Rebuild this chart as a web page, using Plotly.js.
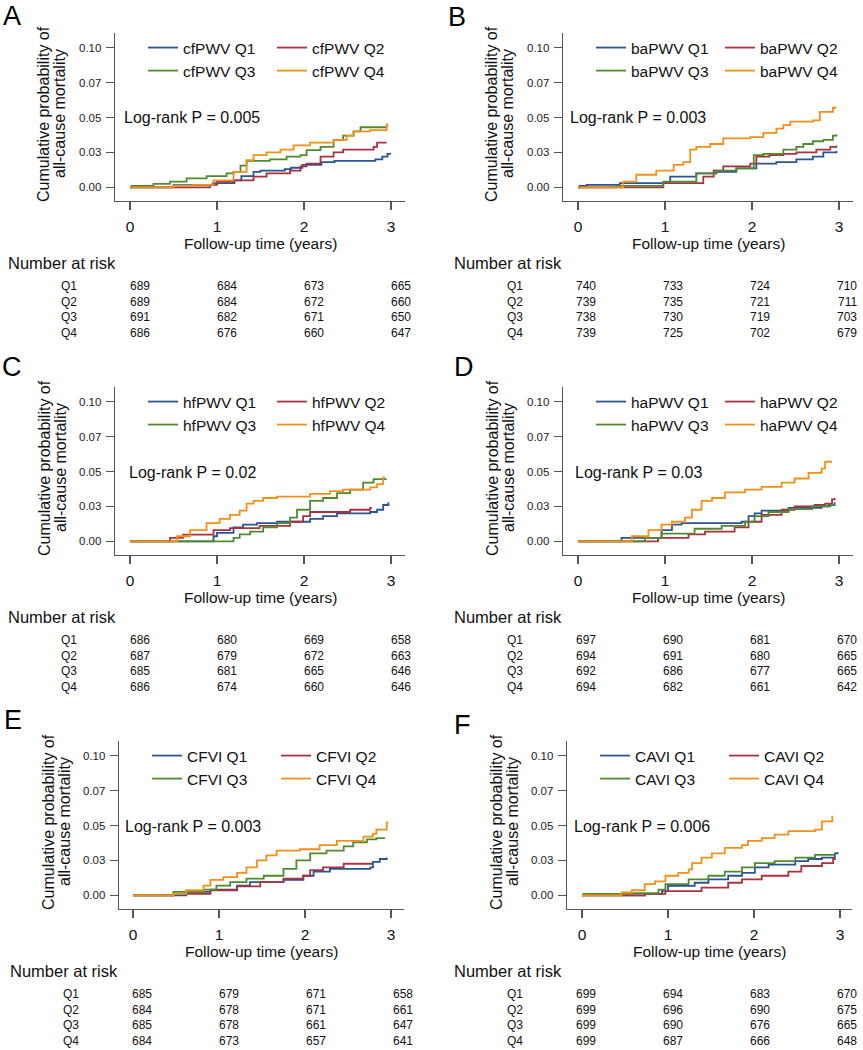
<!DOCTYPE html>
<html>
<head>
<meta charset="utf-8">
<script src="https://cdn.plot.ly/plotly-3.0.1.min.js"></script>
<style>body{margin:0;background:#fff}</style>
</head>
<body>
<div id="chart" style="width:863px;height:1050px"></div>
<script>
// axis ticks
const xTicks = [0, 1, 2, 3];
const yTickVals = [0, 0.025, 0.05, 0.075, 0.1];
const yTickText = ["0.00", "0.03", "0.05", "0.07", "0.10"];
const quartiles = ["Q1", "Q2", "Q3", "Q4"];
const panelLetters = ["A", "B", "C", "D", "E", "F"];
const measureNames = ["cfPWV", "baPWV", "hfPWV", "haPWV", "CFVI", "CAVI"];
const logRankP = ["0.005", "0.003", "0.02", "0.03", "0.003", "0.006"];

// A: cfPWV cumulative probability (time in years, probability)
const cfQ1Time = [0, 0.5, 0.95, 1.2, 1.28, 1.42, 1.5, 1.78, 1.85, 1.98, 2.2, 2.35, 2.82, 2.9, 2.96, 3.0];
const cfQ1Prob = [0, 0.0015, 0.003, 0.005, 0.008, 0.011, 0.012, 0.013, 0.014, 0.016, 0.018, 0.019, 0.020, 0.022, 0.024, 0.024];
const cfQ2Time = [0, 0.92, 1.0, 1.19, 1.42, 1.57, 1.84, 1.96, 2.03, 2.19, 2.34, 2.45, 2.80, 2.84, 2.95];
const cfQ2Prob = [0, 0.0017, 0.004, 0.005, 0.0076, 0.010, 0.012, 0.015, 0.017, 0.022, 0.025, 0.027, 0.029, 0.032, 0.032];
const cfQ3Time = [0, 0.02, 0.27, 0.46, 0.65, 0.88, 1.11, 1.19, 1.27, 1.34, 1.61, 1.80, 1.96, 2.03, 2.19, 2.34, 2.45, 2.57, 2.65, 2.95];
const cfQ3Prob = [0, 0.001, 0.0024, 0.004, 0.0064, 0.008, 0.010, 0.011, 0.0155, 0.019, 0.020, 0.022, 0.023, 0.0267, 0.029, 0.034, 0.037, 0.040, 0.043, 0.044];
const cfQ4Time = [0, 0.5, 0.73, 0.96, 1.19, 1.34, 1.42, 1.57, 1.73, 1.88, 2.07, 2.34, 2.49, 2.57, 2.76, 2.95, 2.97];
const cfQ4Prob = [0, 0.001, 0.0017, 0.005, 0.011, 0.0195, 0.023, 0.025, 0.027, 0.030, 0.032, 0.034, 0.037, 0.040, 0.041, 0.045, 0.045];

// B: baPWV
const baQ1Time = [0, 0.02, 0.1, 0.48, 1.06, 1.36, 1.59, 1.82, 2.05, 2.28, 2.51, 2.70, 2.82, 2.97];
const baQ1Prob = [0, 0.001, 0.0017, 0.003, 0.0076, 0.010, 0.011, 0.0136, 0.017, 0.018, 0.020, 0.022, 0.025, 0.026];
const baQ2Time = [0, 0.98, 1.44, 1.56, 1.67, 1.98, 2.05, 2.2, 2.36, 2.51, 2.74, 2.9, 2.97];
const baQ2Prob = [0, 0.003, 0.0076, 0.012, 0.015, 0.017, 0.022, 0.023, 0.024, 0.025, 0.027, 0.029, 0.030];
const baQ3Time = [0, 0.44, 0.98, 1.36, 1.59, 1.82, 2.02, 2.13, 2.36, 2.51, 2.59, 2.70, 2.82, 2.93, 2.97];
const baQ3Prob = [0, 0.001, 0.004, 0.010, 0.012, 0.0136, 0.023, 0.024, 0.027, 0.029, 0.031, 0.033, 0.034, 0.037, 0.038];
const baQ4Time = [0, 0.52, 0.67, 0.9, 1.1, 1.21, 1.29, 1.36, 1.52, 1.67, 1.98, 2.13, 2.28, 2.36, 2.44, 2.70, 2.78, 2.93, 2.97];
const baQ4Prob = [0, 0.004, 0.009, 0.012, 0.016, 0.018, 0.027, 0.029, 0.031, 0.035, 0.036, 0.039, 0.042, 0.0445, 0.047, 0.048, 0.054, 0.057, 0.057];

// C: hfPWV
const hfQ1Time = [0, 0.96, 1.0, 1.19, 1.30, 1.46, 1.69, 2.07, 2.22, 2.38, 2.76, 2.84, 2.91, 2.97];
const hfQ1Prob = [0, 0.0036, 0.006, 0.010, 0.012, 0.013, 0.014, 0.016, 0.018, 0.020, 0.021, 0.0226, 0.026, 0.028];
const hfQ2Time = [0, 0.46, 0.61, 0.96, 1.15, 1.49, 1.84, 1.99, 2.07, 2.53, 2.76, 2.78];
const hfQ2Prob = [0, 0.0024, 0.0048, 0.008, 0.0095, 0.011, 0.014, 0.018, 0.021, 0.0226, 0.024, 0.024];
const hfQ3Time = [0, 1.19, 1.26, 1.38, 1.53, 1.69, 1.84, 1.92, 2.07, 2.22, 2.38, 2.53, 2.68, 2.80, 2.95];
const hfQ3Prob = [0, 0.0024, 0.005, 0.007, 0.010, 0.013, 0.017, 0.0226, 0.029, 0.031, 0.0345, 0.037, 0.042, 0.0445, 0.0445];
const hfQ4Time = [0, 0.54, 0.69, 0.88, 1.03, 1.15, 1.26, 1.34, 1.42, 1.53, 1.69, 2.07, 2.30, 2.45, 2.76, 2.84, 2.91, 2.93];
const hfQ4Prob = [0, 0.0036, 0.008, 0.013, 0.016, 0.019, 0.022, 0.027, 0.029, 0.031, 0.032, 0.034, 0.036, 0.037, 0.0386, 0.041, 0.0457, 0.0457];

// D: haPWV
const haQ1Time = [0, 0.5, 0.96, 1.08, 1.19, 1.88, 1.96, 2.03, 2.11, 2.42, 2.80, 2.88, 2.95];
const haQ1Prob = [0, 0.0024, 0.008, 0.012, 0.013, 0.014, 0.018, 0.020, 0.022, 0.024, 0.025, 0.026, 0.028];
const haQ2Time = [0, 0.92, 1.27, 1.46, 1.80, 1.96, 2.11, 2.34, 2.49, 2.72, 2.84, 2.92, 2.95];
const haQ2Prob = [0, 0.0024, 0.005, 0.007, 0.010, 0.014, 0.019, 0.0226, 0.025, 0.026, 0.027, 0.030, 0.031];
const haQ3Time = [0, 0.77, 0.96, 1.34, 1.65, 1.92, 2.03, 2.19, 2.42, 2.69, 2.90, 2.95];
const haQ3Prob = [0, 0.0024, 0.0055, 0.009, 0.011, 0.014, 0.018, 0.021, 0.023, 0.025, 0.026, 0.026];
const haQ4Time = [0, 0.62, 0.81, 0.96, 1.08, 1.23, 1.31, 1.42, 1.54, 1.69, 1.92, 2.11, 2.34, 2.49, 2.65, 2.80, 2.84, 2.92];
const haQ4Prob = [0, 0.0036, 0.008, 0.012, 0.014, 0.017, 0.0226, 0.029, 0.031, 0.035, 0.037, 0.039, 0.042, 0.045, 0.049, 0.052, 0.057, 0.057];

// E: CFVI
const cfviQ1Time = [0, 0.62, 0.90, 1.21, 1.36, 1.75, 1.98, 2.10, 2.29, 2.76, 2.79, 2.87, 2.95];
const cfviQ1Prob = [0, 0.0024, 0.004, 0.007, 0.0095, 0.011, 0.014, 0.017, 0.019, 0.020, 0.024, 0.026, 0.027];
const cfviQ2Time = [0, 0.47, 0.90, 1.21, 1.48, 1.75, 1.98, 2.06, 2.21, 2.45, 2.78];
const cfviQ2Prob = [0, 0.001, 0.0036, 0.0064, 0.0095, 0.012, 0.014, 0.018, 0.020, 0.0226, 0.0226];
const cfviQ3Time = [0, 0.47, 0.82, 0.97, 1.13, 1.32, 1.52, 1.75, 1.90, 2.06, 2.25, 2.45, 2.56, 2.72, 2.83, 2.93];
const cfviQ3Prob = [0, 0.0024, 0.004, 0.007, 0.0095, 0.012, 0.014, 0.019, 0.025, 0.030, 0.032, 0.035, 0.038, 0.040, 0.041, 0.041];
const cfviQ4Time = [0, 0.47, 0.62, 0.82, 0.90, 1.05, 1.21, 1.32, 1.44, 1.55, 1.67, 1.94, 2.17, 2.37, 2.68, 2.79, 2.83, 2.95, 2.97];
const cfviQ4Prob = [0, 0.001, 0.0036, 0.007, 0.011, 0.013, 0.016, 0.020, 0.025, 0.0286, 0.032, 0.033, 0.036, 0.039, 0.042, 0.044, 0.047, 0.052, 0.052];

// F: CAVI
const caviQ1Time = [0, 0.73, 0.93, 1.0, 1.31, 1.47, 1.70, 1.86, 2.01, 2.17, 2.48, 2.63, 2.79, 2.94, 2.97];
const caviQ1Prob = [0, 0.001, 0.003, 0.0067, 0.009, 0.0114, 0.014, 0.016, 0.020, 0.022, 0.0245, 0.026, 0.027, 0.030, 0.031];
const caviQ2Time = [0, 0.73, 0.97, 1.39, 1.70, 1.86, 2.09, 2.40, 2.55, 2.79, 2.92, 2.95];
const caviQ2Prob = [0, 0.001, 0.003, 0.0055, 0.009, 0.0114, 0.014, 0.017, 0.021, 0.023, 0.026, 0.026];
const caviQ3Time = [0, 0.02, 0.54, 0.89, 0.97, 1.24, 1.47, 1.66, 1.86, 2.01, 2.24, 2.48, 2.71, 2.94];
const caviQ3Prob = [0, 0.001, 0.0015, 0.004, 0.008, 0.0114, 0.014, 0.017, 0.020, 0.023, 0.0245, 0.027, 0.029, 0.030];
const caviQ4Time = [0, 0.46, 0.58, 0.73, 0.85, 0.97, 1.12, 1.24, 1.28, 1.39, 1.51, 1.66, 1.86, 1.93, 2.09, 2.24, 2.40, 2.71, 2.79, 2.91];
const caviQ4Prob = [0, 0.002, 0.0036, 0.008, 0.010, 0.014, 0.016, 0.0185, 0.023, 0.027, 0.030, 0.034, 0.036, 0.039, 0.041, 0.0435, 0.046, 0.047, 0.053, 0.057];

// Number at risk at 0,1,2,3 years
const riskA = [[689, 684, 673, 665], [689, 684, 672, 660], [691, 682, 671, 650], [686, 676, 660, 647]];
const riskB = [[740, 733, 724, 710], [739, 735, 721, 711], [738, 730, 719, 703], [739, 725, 702, 679]];
const riskC = [[686, 680, 669, 658], [687, 679, 672, 663], [685, 681, 665, 646], [686, 674, 660, 646]];
const riskD = [[697, 690, 681, 670], [694, 691, 680, 665], [692, 686, 677, 665], [694, 682, 661, 642]];
const riskE = [[685, 679, 671, 658], [684, 678, 671, 661], [685, 678, 661, 647], [684, 673, 657, 641]];
const riskF = [[699, 694, 683, 670], [699, 696, 690, 675], [699, 690, 676, 665], [699, 687, 666, 648]];

const panelTimes = [
  [cfQ1Time, cfQ2Time, cfQ3Time, cfQ4Time],
  [baQ1Time, baQ2Time, baQ3Time, baQ4Time],
  [hfQ1Time, hfQ2Time, hfQ3Time, hfQ4Time],
  [haQ1Time, haQ2Time, haQ3Time, haQ4Time],
  [cfviQ1Time, cfviQ2Time, cfviQ3Time, cfviQ4Time],
  [caviQ1Time, caviQ2Time, caviQ3Time, caviQ4Time],
];
const panelProbs = [
  [cfQ1Prob, cfQ2Prob, cfQ3Prob, cfQ4Prob],
  [baQ1Prob, baQ2Prob, baQ3Prob, baQ4Prob],
  [hfQ1Prob, hfQ2Prob, hfQ3Prob, hfQ4Prob],
  [haQ1Prob, haQ2Prob, haQ3Prob, haQ4Prob],
  [cfviQ1Prob, cfviQ2Prob, cfviQ3Prob, cfviQ4Prob],
  [caviQ1Prob, caviQ2Prob, caviQ3Prob, caviQ4Prob],
];
const panelRisk = [riskA, riskB, riskC, riskD, riskE, riskF];

const lineColors = ["#2a5592", "#a8323f", "#4f8a2e", "#f39019"];
const W = 863, H = 1050;
const FONT = "Liberation Sans, Arial, Helvetica, sans-serif";
const px = (x) => x / W;
const py = (y) => 1 - y / H;

// panel geometry in pixels: axis left/right, tick 0 / tick 3 positions, vertical offset
const axL = [115, 563, 115, 563, 119, 567];
const axR = [405, 853, 405, 853, 404, 852];
const t0px = [130, 578, 130, 578, 133, 582];
const t3px = [391, 839, 391, 839, 391, 840];
const rowDy = [0, 0, 354, 354, 708, 708];
const tableDx = [0, 446, 0, 446, 2, 446];
const letterX = [12, 457, 12, 464, 13, 462];
const letterY = [16, 17, 367, 367, 720, 725];
const logX = [122, 568, 127, 573, 123, 572];

const traces = [];
const annotations = [];
const layout = {
  width: W,
  height: H,
  margin: { l: 0, r: 0, t: 0, b: 0 },
  paper_bgcolor: "#fff",
  plot_bgcolor: "#fff",
  font: { family: FONT, color: "#111" },
  annotations: annotations,
};

// text placed by pixel position
function label(text, x, y, size, opts) {
  annotations.push(Object.assign({
    text: text, x: px(x), y: py(y), xref: "paper", yref: "paper",
    xanchor: "center", yanchor: "middle", showarrow: false,
    font: { size: size, color: "#111" },
  }, opts || {}));
}

for (let i = 0; i < 6; i++) {
  const suf = i === 0 ? "" : String(i + 1);
  const dy = rowDy[i];
  const dx = axL[i] - 115;
  const ppu = (t3px[i] - t0px[i]) / 3;
  layout["xaxis" + suf] = {
    domain: [px(axL[i]), px(axR[i])],
    range: [(axL[i] - t0px[i]) / ppu, 3 + (axR[i] - t3px[i]) / ppu],
    anchor: "y" + suf,
    tickvals: xTicks,
    ticks: "outside", ticklen: 8, tickwidth: 1.3, tickcolor: "#555",
    showline: true, linecolor: "#555", linewidth: 1.3,
    showgrid: false, zeroline: false,
    tickfont: { size: 15.5, color: "#111" },
    ticklabelstandoff: 3,
  };
  layout["yaxis" + suf] = {
    domain: [py(201 + dy), py(33 + dy)],
    range: [-(201 - 187.3) / 1396, (187.3 - 33) / 1396],
    anchor: "x" + suf,
    tickvals: yTickVals, ticktext: yTickText,
    ticks: "outside", ticklen: 8, tickwidth: 1.3, tickcolor: "#555",
    showline: true, linecolor: "#555", linewidth: 1.3,
    showgrid: false, zeroline: false,
    tickfont: { size: 11.5, color: "#222" },
    ticklabelstandoff: 2,
  };

  // two legend rows per panel
  for (let r = 0; r < 2; r++) {
    const idx = i * 2 + r + 1;
    layout[idx === 1 ? "legend" : "legend" + idx] = {
      x: px(143 + dx), y: py((r === 0 ? 48 : 71) + dy),
      xanchor: "left", yanchor: "middle",
      orientation: "h", entrywidth: 84, entrywidthmode: "pixels",
      bgcolor: "rgba(0,0,0,0)", borderwidth: 0,
      font: { size: 15.5, color: "#111" },
    };
  }

  for (let q = 0; q < 4; q++) {
    const idx = i * 2 + (q < 2 ? 0 : 1) + 1;
    traces.push({
      x: panelTimes[i][q],
      y: panelProbs[i][q],
      type: "scatter",
      mode: "lines",
      line: { shape: "hv", color: lineColors[q], width: 1.8 },
      name: measureNames[i] + " " + quartiles[q],
      xaxis: "x" + suf,
      yaxis: "y" + suf,
      legend: idx === 1 ? "legend" : "legend" + idx,
    });
  }

  label(panelLetters[i], letterX[i], letterY[i], 27, { font: { size: 27, color: "#000" } });
  // y title, two rotated lines
  label("Cumulative probability of", 44 + dx, 114 + dy, 16, { textangle: -90 });
  label("all-cause mortality", 60 + dx, 114 + dy, 16, { textangle: -90 });
  label("Follow-up time (years)", (axL[i] + axR[i]) / 2, 243 + dy, 15.5);
  label("Log-rank P = " + logRankP[i], logX[i], 118 + dy, 16, { xanchor: "left" });

  // number at risk table
  const tdx = tableDx[i];
  label("Number at risk", 6 + tdx, 263 + dy, 16.5, { xanchor: "left" });
  const numX = [140, 227, 314, 401];
  for (let q = 0; q < 4; q++) {
    const rowY = 286 + q * 15.5 + dy;
    label(quartiles[q], 69 + tdx, rowY, 12);
    for (let k = 0; k < 4; k++) {
      label(String(panelRisk[i][q][k]), numX[k] + tdx, rowY, 12);
    }
  }
}

Plotly.newPlot("chart", traces, layout, { displayModeBar: false, staticPlot: true });
</script>
</body>
</html>
